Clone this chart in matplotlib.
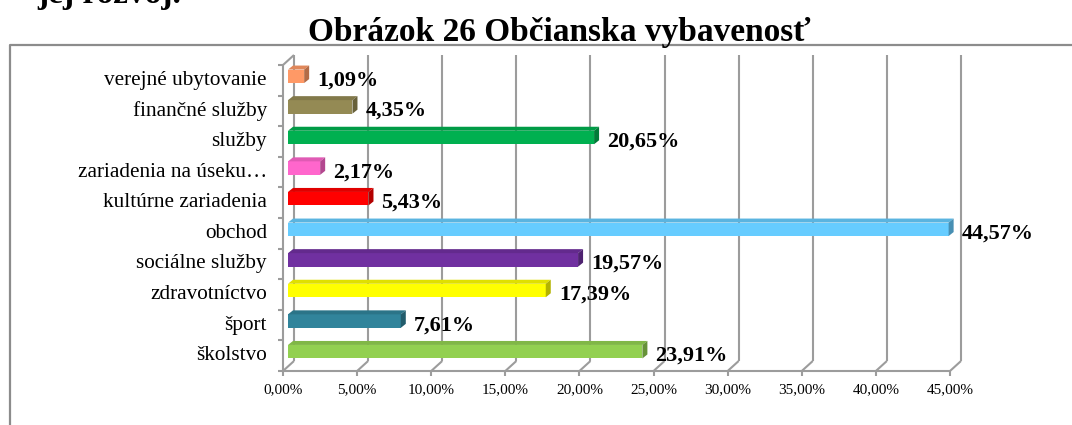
import matplotlib
matplotlib.use('Agg')
import matplotlib.pyplot as plt
from matplotlib.patches import Polygon
from matplotlib.lines import Line2D
import matplotlib.colors as mcolors

# ---------------- data ----------------
categories = ['školstvo', 'šport', 'zdravotníctvo', 'sociálne služby', 'obchod',
              'kultúrne zariadenia', 'zariadenia na úseku…', 'služby',
              'finančné služby', 'verejné ubytovanie']
values = [23.91, 7.61, 17.39, 19.57, 44.57, 5.43, 2.17, 20.65, 4.35, 1.09]
value_labels = ['23,91%', '7,61%', '17,39%', '19,57%', '44,57%', '5,43%',
                '2,17%', '20,65%', '4,35%', '1,09%']
bar_colors = ['#92D050', '#31849B', '#FFFF00', '#7030A0', '#66CCFF', '#FF0000',
              '#FF66CC', '#00B050', '#948A54', '#FF9966']
xticks = [0, 5, 10, 15, 20, 25, 30, 35, 40, 45]
xtick_labels = ['0,00%', '5,00%', '10,00%', '15,00%', '20,00%', '25,00%',
                '30,00%', '35,00%', '40,00%', '45,00%']
title = 'Obrázok 26 Občianska vybavenosť'
header = 'jej rozvoj.'

# ---------------- layout ----------------
W, H = 1072, 425
serif = 'Liberation Serif'
fig = plt.figure(figsize=(W / 100, H / 100), dpi=100)
fig.patch.set_facecolor('white')

ax_l, ax_r, ax_b, ax_t = 283, 950, 371, 65
ax = fig.add_axes([ax_l / W, 1 - ax_b / H, (ax_r - ax_l) / W, (ax_b - ax_t) / H])
xmin, xmax = 0, 45
ymin, ymax = -0.5, len(categories) - 0.5
ax.set_xlim(xmin, xmax)
ax.set_ylim(ymin, ymax)
ax.axis('off')

# pixel -> data unit conversions
px_x = (xmax - xmin) / (ax_r - ax_l)
px_y = (ymax - ymin) / (ax_b - ax_t)

grid_c = '#9C9C9C'
glw = 1.5
back_dx, back_dy = 11 * px_x, 10 * px_y


def line(xs, ys, **kw):
    ax.add_line(Line2D(xs, ys, color=kw.pop('color', grid_c), lw=kw.pop('lw', glw),
                       clip_on=False, solid_capstyle='butt', **kw))


# back wall gridlines + diagonals to front floor
for x in xticks:
    line([x + back_dx, x + back_dx], [ymin + back_dy, ymax + back_dy], zorder=1)
    line([x, x + back_dx], [ymin, ymin + back_dy], zorder=1)
    # tick mark below the front edge
    line([x, x], [ymin, ymin - 5 * px_y], zorder=1)

# front base line
line([xmin, xmax], [ymin, ymin], zorder=1)
# left wall front edge and top connector
line([xmin, xmin], [ymin, ymax], zorder=1)
line([xmin, xmin + back_dx], [ymax, ymax + back_dy], zorder=1)
# category ticks on left axis
for k in range(len(categories) + 1):
    yb = ymin + k
    line([xmin - 5 * px_x, xmin], [yb, yb], zorder=1)

# ---------------- 3D bars ----------------
bar_h = 13.5 * px_y
off_x, off_y = 5 * px_x, 4 * px_y      # bar front face offset (mid depth)
dep_x, dep_y = 5 * px_x, 4 * px_y      # bar depth
ypos = list(range(len(categories)))


def shade(c, f):
    r, g, b = mcolors.to_rgb(c)
    return (r * f, g * f, b * f)


yc = [y + off_y for y in ypos]
ax.barh(yc, values, height=bar_h, left=off_x, color=bar_colors, zorder=3,
        edgecolor='none')
for y, v, c in zip(yc, values, bar_colors):
    l = off_x
    r = off_x + v
    yt = y + bar_h / 2
    yb = y - bar_h / 2
    top = Polygon([(l, yt), (r, yt), (r + dep_x, yt + dep_y), (l + dep_x, yt + dep_y)],
                  closed=True, facecolor=shade(c, 0.88), edgecolor='none', zorder=3,
                  clip_on=False)
    side = Polygon([(r, yb), (r, yt), (r + dep_x, yt + dep_y), (r + dep_x, yb + dep_y)],
                   closed=True, facecolor=shade(c, 0.7), edgecolor='none', zorder=3,
                   clip_on=False)
    ax.add_patch(top)
    ax.add_patch(side)

# ---------------- text ----------------
for y, lab in zip(ypos, categories):
    ax.annotate(lab, (xmin, y), xytext=(-16, 0), textcoords='offset pixels',
                ha='right', va='center', fontsize=15.3, family=serif, color='black',
                annotation_clip=False)

for y, v, lab in zip(ypos, values, value_labels):
    ax.annotate(lab, (v, y), xytext=(18, 0), textcoords='offset pixels',
                ha='left', va='center', fontsize=16, family=serif,
                fontweight='bold', color='black', annotation_clip=False, zorder=4)

for x, lab in zip(xticks, xtick_labels):
    ax.annotate(lab, (x, ymin), xytext=(0, -19), textcoords='offset pixels',
                ha='center', va='center', fontsize=11, family=serif, color='black',
                annotation_clip=False)

fig.text(559 / W, 1 - 41 / H, title, ha='center', va='baseline', fontsize=24,
         family=serif, fontweight='bold')
fig.text(37 / W, 1 - 3 / H, header, ha='left', va='baseline', fontsize=24,
         family=serif, fontweight='bold')

# chart border
fig.add_artist(Line2D([10 / W, 10 / W, 1.0], [0.0, 1 - 45 / H, 1 - 45 / H],
                      transform=fig.transFigure, color='#8C8C8C', lw=1.6))

fig.savefig('out.png', dpi=100, facecolor='white')
